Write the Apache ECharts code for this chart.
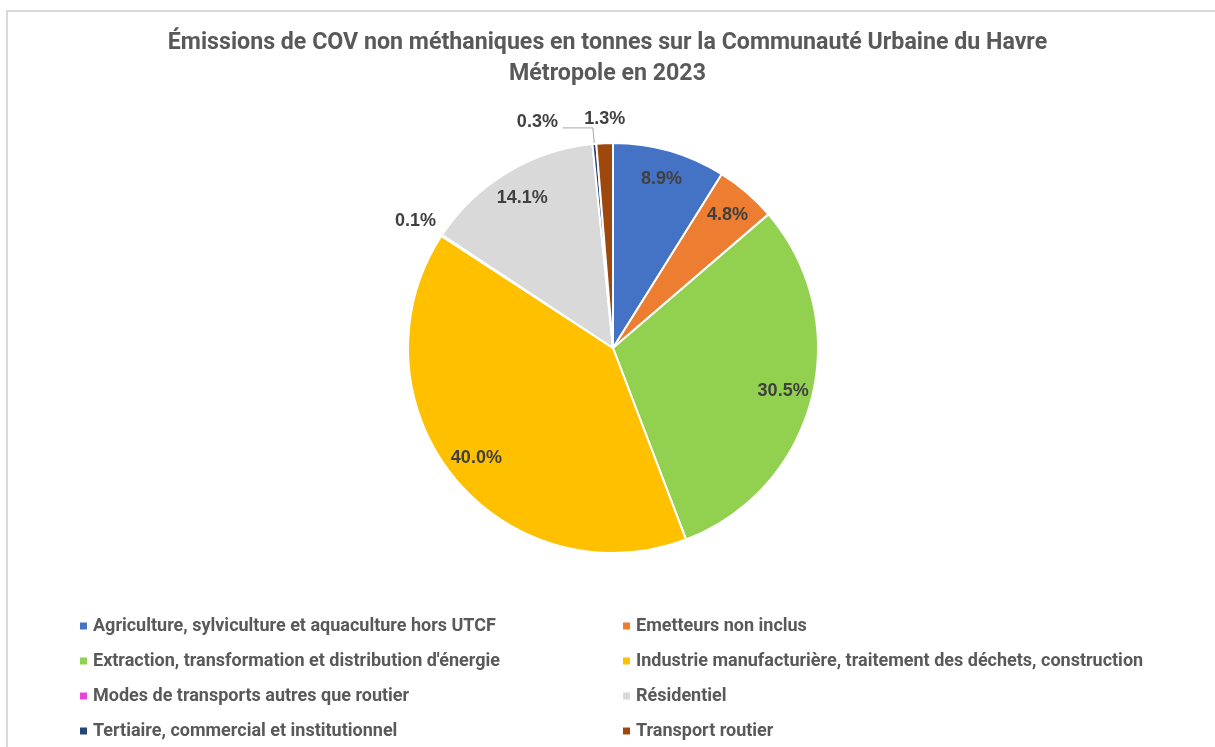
<!DOCTYPE html>
<html>
<head>
<meta charset="utf-8">
<script src="https://cdn.jsdelivr.net/npm/echarts@6/dist/echarts.min.js"></script>
<style>
html,body{margin:0;padding:0;background:#fff;}
#chart{width:1215px;height:747px;}
</style>
</head>
<body>
<div id="chart"></div>
<script>
const titleText = 'Émissions de COV non méthaniques en tonnes sur la Communauté Urbaine du Havre\nMétropole en 2023';
const categories = [
  'Agriculture, sylviculture et aquaculture hors UTCF',
  'Emetteurs non inclus',
  'Extraction, transformation et distribution d\'énergie',
  'Industrie manufacturière, traitement des déchets, construction',
  'Modes de transports autres que routier',
  'Résidentiel',
  'Tertiaire, commercial et institutionnel',
  'Transport routier'
];
const shares = [8.9, 4.8, 30.5, 40.0, 0.1, 14.1, 0.3, 1.3];
const colors = ['#4472C4', '#ED7D31', '#92D050', '#FFC000', '#E945D6', '#D9D9D9', '#264478', '#9E480E'];
const legendLeft = [categories[0], categories[2], categories[4], categories[6]];
const legendRight = [categories[1], categories[3], categories[5], categories[7]];

const SMALL = 2;
const fontFam = 'Roboto, "Liberation Sans", Arial, sans-serif';

// label line settings for the small outside labels (index -> [length, length2, showLine])
const outsideLabelCfg = { 4: [30, 0, false], 6: [16, 30, true], 7: [24, 0, false] };
// fine offsets for the outside labels without a leader line
const outsideLabelShift = { 4: [4, 2], 7: [6, 0] };

const baseData = categories.map((c, i) => ({ name: c, value: shares[i], itemStyle: { color: colors[i] } }));
const labelData = categories.map((c, i) => {
  const small = shares[i] < SMALL;
  const cfg = outsideLabelCfg[i];
  return {
    name: c,
    value: shares[i],
    label: { position: small ? 'outside' : 'inside' },
    labelLine: cfg ? { show: cfg[2], length: cfg[0], length2: cfg[1] } : { show: false }
  };
});

const chart = echarts.init(document.getElementById('chart'), null, { renderer: 'canvas' });
const legendCommon = {
  orient: 'vertical',
  top: 616,
  padding: 0,
  itemWidth: 9,
  itemHeight: 9,
  itemGap: 15,
  icon: 'rect',
  selectedMode: false,
  textStyle: { color: '#595959', fontSize: 18, lineHeight: 20, fontWeight: 'bold', fontFamily: fontFam }
};
chart.setOption({
  animation: false,
  backgroundColor: '#fff',
  title: {
    text: titleText,
    left: 'center',
    top: 23,
    textStyle: { color: '#595959', fontSize: 23.2, fontWeight: 'bold', fontFamily: fontFam, lineHeight: 31 }
  },
  graphic: [{
    type: 'rect',
    shape: { x: 7, y: 11, width: 1220, height: 760 },
    style: { fill: 'none', stroke: '#D9D9D9', lineWidth: 2 },
    silent: true
  }],
  legend: [
    Object.assign({ left: 78, data: legendLeft }, legendCommon),
    Object.assign({ left: 621, data: legendRight }, legendCommon)
  ],
  series: [
    {
      type: 'pie',
      center: [613, 348],
      radius: 205,
      startAngle: 90,
      clockwise: true,
      silent: true,
      label: { show: false },
      labelLine: { show: false },
      itemStyle: { borderColor: '#fff', borderWidth: 2 },
      data: baseData
    },
    {
      type: 'pie',
      center: [613, 348],
      radius: [140, 205],
      startAngle: 90,
      clockwise: true,
      silent: true,
      avoidLabelOverlap: false,
      itemStyle: { color: 'rgba(0,0,0,0)' },
      label: {
        show: true,
        formatter: p => p.value.toFixed(1) + '%',
        color: '#404040',
        fontSize: 18,
        fontWeight: 'bold',
        fontFamily: '"Liberation Sans", Arial, sans-serif'
      },
      labelLine: { lineStyle: { color: '#A6A6A6', width: 1 } },
      labelLayout: function (params) {
        const s = outsideLabelShift[params.dataIndex];
        if (s) return { align: 'center', dx: s[0], dy: s[1] };
        if (params.dataIndex === 6) return { dy: -6 };
        return {};
      },
      data: labelData
    }
  ]
});
</script>
</body>
</html>
